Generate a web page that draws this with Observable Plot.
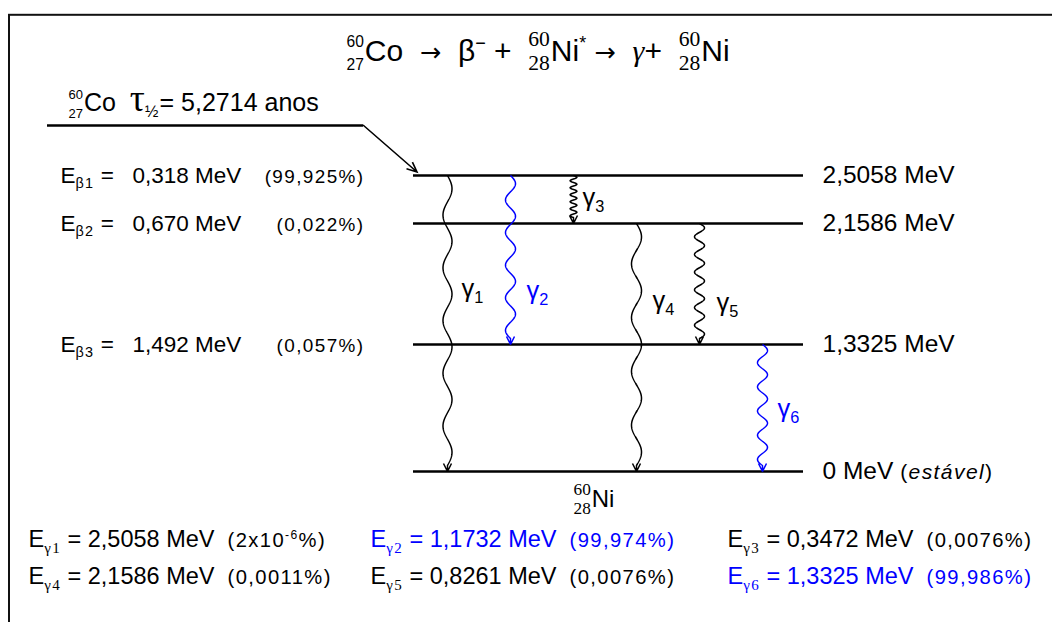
<!DOCTYPE html>
<html><head><meta charset="utf-8">
<script src="https://cdn.jsdelivr.net/npm/d3@7"></script>
<script src="https://cdn.jsdelivr.net/npm/@observablehq/plot@0.6"></script>
<style>html,body{margin:0;padding:0;background:#fff;overflow:hidden} svg{display:block}</style>
</head><body><div id="chart"></div>
<script>
// ---------------- data ----------------
const parent = {A: 60, Z: 27, symbol: "Co"};
const daughter = {A: 60, Z: 28, symbol: "Ni"};
const halfLife = "5,2714 anos";
const levelEnergies = [2.5058, 2.1586, 1.3325, 0];          // MeV (60Ni levels)
const groundNote = "estável";
const betaNames = ["β1", "β2", "β3"];
const betaEnergies = [0.318, 0.670, 1.492];                 // MeV
const betaIntensities = [99.925, 0.022, 0.057];             // %
const betaLevels = [2.5058, 2.1586, 1.3325];
const gammaNames = ["γ1", "γ2", "γ3", "γ4", "γ5", "γ6"];
const gammaFrom = [2.5058, 2.5058, 2.5058, 2.1586, 2.1586, 1.3325];
const gammaTo = [0, 1.3325, 2.1586, 0, 1.3325, 0];
const gammaEnergies = [2.5058, 1.1732, 0.3472, 2.1586, 0.8261, 1.3325];
const gammaIntensities = [2e-6, 99.974, 0.0076, 0.0011, 0.0076, 99.986];
const gammaMajor = [false, true, false, false, false, true];

// ---------------- styles / layout ----------------
const SANS = '"Liberation Sans", Arial, Helvetica, sans-serif';
const SERIF = '"Liberation Serif", "Times New Roman", serif';
const DEJAVU = '"DejaVu Sans", sans-serif';
const BLUE = "#0000ff";
const ML = 413, MR = 249;
const waveStyle = {γ1: [54, 4.5], γ2: [33, 5], γ3: [7, 3.5], γ4: [54, 5], γ5: [18, 5], γ6: [24, 5]};
const gammaLabelNudge = {γ1: [14, 113], γ2: [16, 115], γ3: [9, 22], γ4: [16, 77], γ5: [17, 79], γ6: [15, 64]};
const legendCols = [28, 370, 727], legendRows = [539, 576];

// ---------------- helpers ----------------
const comma = (s) => s.replace(".", ",");
const fmtE = (v, d) => (v === 0 ? "0" : comma(v.toFixed(d)));
function fmtPct(v) {
  if (v < 1e-3) {
    const e = Math.floor(Math.log10(v)), m = Math.round(v / 10 ** e);
    return `{m:(${m}x10}{m^:${e}}{m:%)}`;
  }
  return `{m:(${comma(String(v))}%)}`;
}
const sub = (name) => name.slice(1);
const greek = (name) => name[0];

const coLevel = levelEnergies[0] + betaEnergies[0];
const betas = betaNames.map((name, i) => ({name, E: betaEnergies[i], I: betaIntensities[i], level: betaLevels[i]}));
const gammas = gammaNames.map((name, i) => ({name, from: gammaFrom[i], to: gammaTo[i], E: gammaEnergies[i], I: gammaIntensities[i], major: gammaMajor[i]}));

// wavy transition curve (custom curve for Plot.link)
function waveCurve(period, amp, head = 8, half = 4, tail = 6) {
  return (context) => {
    let pts = [];
    return {
      areaStart() {}, areaEnd() {},
      lineStart() { pts = []; },
      point(x, y) { pts.push([+x, +y]); },
      lineEnd() {
        const [x0, y0] = pts[0], [x1, y1] = pts[pts.length - 1];
        const L = Math.hypot(x1 - x0, y1 - y0);
        if (!L) return;
        const ux = (x1 - x0) / L, uy = (y1 - y0) / L, nx = uy, ny = -ux;
        const len = Math.max(0, L - tail);
        const halves = Math.max(1, Math.round((2 * len) / period));
        const P = (2 * len) / halves;
        context.moveTo(x0, y0);
        const steps = Math.ceil(len * 2);
        for (let k = 1; k <= steps; ++k) {
          const s = (len * k) / steps, w = amp * Math.sin((2 * Math.PI * s) / P);
          context.lineTo(x0 + ux * s + nx * w, y0 + uy * s + ny * w);
        }
        context.lineTo(x1, y1);
        context.moveTo(x1 - ux * head + nx * half, y1 - uy * head + ny * half);
        context.lineTo(x1, y1);
        context.lineTo(x1 - ux * head - nx * half, y1 - uy * head - ny * half);
      }
    };
  };
}

const NS = "http://www.w3.org/2000/svg";
function betaArrow(...args) {
  const scales = args.find((a) => a && typeof a.y === "function");
  const dims = args.find((a) => a && typeof a.marginLeft === "number");
  const x0 = dims.marginLeft - 50, y0 = scales.y(coLevel);
  const x1 = dims.marginLeft + 4, y1 = scales.y(levelEnergies[0]) - 3;
  const L = Math.hypot(x1 - x0, y1 - y0), ux = (x1 - x0) / L, uy = (y1 - y0) / L;
  const nx = -uy, ny = ux, h = 10, w = 4.5;
  const p = document.createElementNS(NS, "path");
  p.setAttribute("d", `M${x0},${y0}L${x1},${y1}M${x1 - ux * h + nx * w},${y1 - uy * h + ny * w}L${x1},${y1}L${x1 - ux * h - nx * w},${y1 - uy * h - ny * w}`);
  p.setAttribute("fill", "none");
  p.setAttribute("stroke", "black");
  p.setAttribute("stroke-width", 1.6);
  return p;
}

// ---------------- plot ----------------
const iso = (n, serif) => `{p${serif ? "s" : ""}:${n.A}|${n.Z}}${n.symbol}`;
const titleText = `${iso(parent)}  {d:→}  β{^:−} +  ${iso(daughter, true)}{^:*} {d:→}  {si:γ}+  ${iso(daughter, true)}`;
const coText = `${iso(parent)}  {sb:τ}{_:½}= ${halfLife}`;

const marks = [
  Plot.frame({stroke: "#111", strokeWidth: 2, insetLeft: 8.5 - ML, insetTop: 14.3, insetRight: -400, insetBottom: -400}),
  Plot.ruleY(levelEnergies, {stroke: "black", strokeWidth: 2.5}),
  Plot.ruleY([coLevel], {stroke: "black", strokeWidth: 2.3, insetLeft: 47 - ML, insetRight: 440}),
  betaArrow,
  ...gammas.map((g) => Plot.link([g], {
    x1: "name", x2: "name", y1: "from", y2: "to",
    stroke: g.major ? BLUE : "black", strokeWidth: 1.5,
    curve: waveCurve(...waveStyle[g.name])
  })),
  ...gammas.map((g) => Plot.text([g], {
    x: "name", y: "from", text: (d) => `${greek(d.name)}{_:${sub(d.name)}}`,
    textAnchor: "start", lineAnchor: "middle", fontSize: 25.5, fill: g.major ? BLUE : "black",
    dx: gammaLabelNudge[g.name][0], dy: gammaLabelNudge[g.name][1]
  })),
  Plot.text([titleText], {text: (d) => d, frameAnchor: "top-left", lineAnchor: "middle", dx: 346 - ML, dy: 51, textAnchor: "start", fontSize: 30}),
  Plot.text([coText], {text: (d) => d, y: () => coLevel, frameAnchor: "left", lineAnchor: "middle", dx: 68 - ML, dy: -23, textAnchor: "start", fontSize: 25}),
  Plot.text(betas, {y: "level", text: (d) => `E{_:${d.name}} =   ${fmtE(d.E, 3)} MeV`, frameAnchor: "left", lineAnchor: "middle", dx: 60 - ML, textAnchor: "start", fontSize: 22.5}),
  Plot.text(betas, {y: "level", text: (d) => fmtPct(d.I), frameAnchor: "left", lineAnchor: "middle", dx: 364 - ML, textAnchor: "end", fontSize: 22}),
  Plot.text(levelEnergies, {y: (d) => d, text: (d) => (d === 0 ? `0 MeV {m:(}{mi:${groundNote}}{m:)}` : `${fmtE(d, 4)} MeV`), frameAnchor: "right", lineAnchor: "middle", dx: 19, textAnchor: "start", fontSize: 24.5}),
  Plot.text([0], {y: (d) => d, text: () => iso(daughter, true), frameAnchor: "left", lineAnchor: "middle", dx: 573 - ML, dy: 28, textAnchor: "start", fontSize: 24}),
  ...gammas.map((g, i) => Plot.text([g], {
    text: (d) => `E{_s:${d.name}} = ${fmtE(d.E, 4)} MeV  ${fmtPct(d.I)}`,
    frameAnchor: "top-left", lineAnchor: "middle", dx: legendCols[i % 3] - ML, dy: legendRows[Math.floor(i / 3)],
    textAnchor: "start", fontSize: 23.5, fill: g.major ? BLUE : "black"
  }))
];

const svg = Plot.plot({
  width: 1052, height: 622,
  marginLeft: ML, marginRight: MR, marginTop: 0, marginBottom: 0,
  x: {type: "point", domain: gammaNames, range: [446, 763], padding: 0, axis: null},
  y: {type: "linear", domain: [...levelEnergies].sort((a, b) => a - b).concat([coLevel]), range: [471, 344, 223, 175, 125], axis: null},
  style: {fontFamily: SANS, background: "white", overflow: "hidden", color: "black"},
  marks
});
document.getElementById("chart").append(svg);

// ---------------- rich text (sub/superscripts) ----------------
const ctx2d = document.createElement("canvas").getContext("2d");
function measure(s, size, family, italic) {
  ctx2d.font = `${italic ? "italic " : ""}${size}px ${family}`;
  return ctx2d.measureText(s).width;
}
function parseRich(str) {
  const out = [], re = /\{([_^imspbd]*):([^}]*)\}/g;
  let last = 0, m;
  while ((m = re.exec(str))) {
    if (m.index > last) out.push({flags: "", text: str.slice(last, m.index)});
    out.push({flags: m[1], text: m[2]});
    last = re.lastIndex;
  }
  if (last < str.length) out.push({flags: "", text: str.slice(last)});
  return out;
}
function richify(el) {
  const spec = el.textContent;
  const fs = parseFloat(getComputedStyle(el).fontSize);
  el.textContent = "";
  let shift = 0, pendingDx = 0;
  const add = (txt, size, fam, italic, dy, dx, ls) => {
    const t = document.createElementNS(NS, "tspan");
    t.textContent = txt.replace(/ /g, "\u00a0");
    t.setAttribute("font-size", size);
    t.setAttribute("font-family", fam);
    if (italic) t.setAttribute("font-style", "italic");
    if (dy) t.setAttribute("dy", dy);
    if (dx) t.setAttribute("dx", dx);
    if (ls) t.setAttribute("letter-spacing", ls);
    el.appendChild(t);
  };
  for (const {flags, text} of parseRich(spec)) {
    const fam = flags.includes("s") ? SERIF : flags.includes("d") ? DEJAVU : SANS;
    const it = flags.includes("i");
    const base = fs * (flags.includes("m") ? 0.86 : 1);
    let ls = flags.includes("m") ? 1.4 : 0;
    if (flags.includes("p")) {
      const [a, z] = text.split("|");
      const serif = fam === SERIF;
      const ps = base * (serif ? 0.72 : 0.52);
      const up = -base * (serif ? 0.5 : 0.46), down = base * 0.3;
      add(a, ps, fam, it, up - shift, pendingDx, 0); shift = up;
      const wa = measure(a, ps, fam), wz = measure(z, ps, fam);
      add(z, ps, fam, it, down - shift, -wa, 0); shift = down;
      pendingDx = Math.max(0, wa - wz) + 1;
      continue;
    }
    let size = base * (flags.includes("b") ? 1.5 : flags.includes("d") ? 0.85 : 1), target = 0;
    if (flags.includes("_")) { size = base * 0.64; target = base * 0.24; ls = 1.3; }
    if (flags.includes("^")) { size = base * 0.6; target = -base * 0.42; }
    add(text, size, fam, it, target - shift, pendingDx, ls);
    shift = target; pendingDx = 0;
  }
}
svg.querySelectorAll("text").forEach(richify);
</script>
</body></html>
